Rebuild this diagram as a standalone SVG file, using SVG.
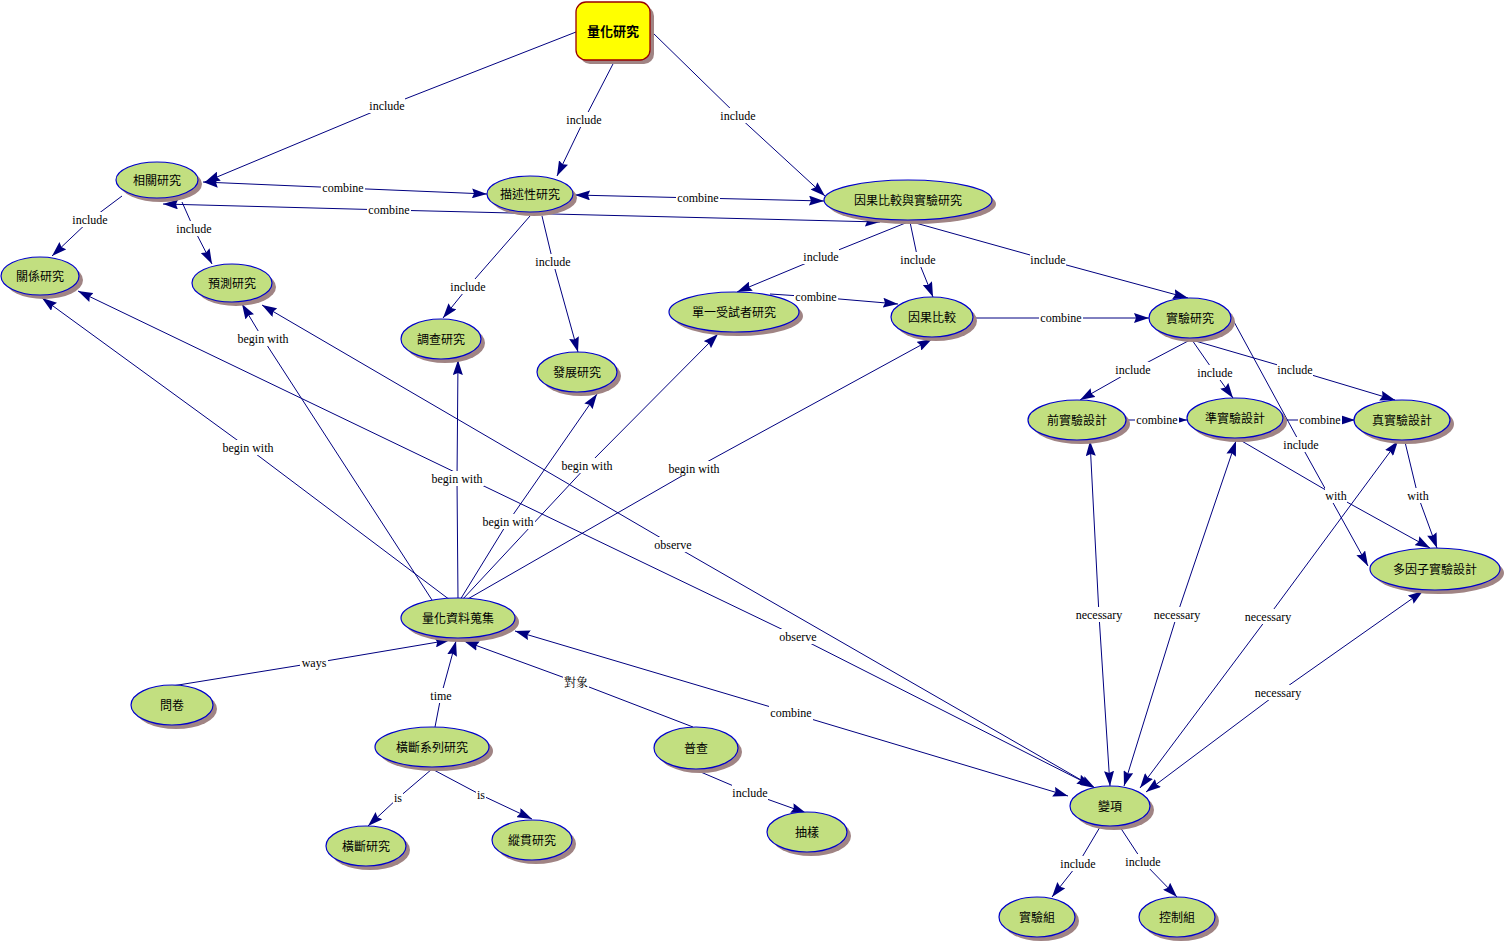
<svg xmlns="http://www.w3.org/2000/svg" width="1506" height="942" viewBox="0 0 1506 942">
<defs>
<style>
.e{fill:none;stroke:#000080;stroke-width:1;}
.a{marker-end:url(#ah);}
.b{marker-end:url(#ah);marker-start:url(#ah);}
.lb{fill:#ffffff;}
.lt{font-family:"Liberation Serif","Noto Serif CJK TC","Noto Sans CJK TC",serif;font-size:12px;fill:#000;text-anchor:middle;}
.sh{fill:#a08484;}
.n{fill:#c2df80;stroke:#0000cc;stroke-width:1.2;}
.nt{font-family:"Noto Sans CJK TC","Noto Sans CJK SC",sans-serif;font-size:12px;fill:#000;text-anchor:middle;}
.root{fill:#ffff00;stroke:#990000;stroke-width:1.3;}
.rt{font-family:"Noto Sans CJK TC","Noto Sans CJK SC",sans-serif;font-size:13px;font-weight:bold;fill:#000;text-anchor:middle;}
</style>
<marker id="ah" viewBox="0 0 15 10" refX="15" refY="5" markerWidth="15" markerHeight="10" markerUnits="userSpaceOnUse" orient="auto-start-reverse">
<path d="M0,0 L15,5 L0,10 L2,5 z" fill="#000080"/>
</marker>
</defs>
<rect width="1506" height="942" fill="#ffffff"/>
<g id="connectors">
<path class="e a" d="M576,32 L387,106 L205,182"/>
<path class="e a" d="M614,62 L584,120 L557,176"/>
<path class="e a" d="M652,32 L738,116 L825,196"/>
<path class="e b" d="M203,182 L343,188 L487,194"/>
<path class="e b" d="M575,195 L698,198 L824,201"/>
<path class="e b" d="M163,204 L389,210 L880,222"/>
<path class="e a" d="M122,196 L90,220 L52,256"/>
<path class="e a" d="M182,202 L194,229 L212,264"/>
<path class="e a" d="M530,216 L468,287 L443,318"/>
<path class="e a" d="M542,216 L553,262 L578,352"/>
<path class="e a" d="M908,222 L821,257 L737,292"/>
<path class="e a" d="M910,222 L918,260 L933,297"/>
<path class="e a" d="M912,222 L1048,260 L1188,298"/>
<path class="e a" d="M770,294 L816,297 L898,304"/>
<path class="e a" d="M973,318 L1061,318 L1149,318"/>
<path class="e a" d="M1190,340 L1133,370 L1080,400"/>
<path class="e a" d="M1192,340 L1215,373 L1233,398"/>
<path class="e a" d="M1192,340 L1295,370 L1395,400"/>
<path class="e a" d="M1127,420 L1157,420 L1187,420"/>
<path class="e a" d="M1283,420 L1320,420 L1355,420"/>
<path class="e a" d="M1233,320 L1301,445 L1368,566"/>
<path class="e a" d="M1240,440 L1336,496 L1430,548"/>
<path class="e a" d="M1405,442 L1418,496 L1437,548"/>
<path class="e a" d="M450,600 L248,448 L42,298"/>
<path class="e a" d="M432,600 L263,339 L242,304"/>
<path class="e a" d="M458,600 L457,479 L458,360"/>
<path class="e a" d="M460,600 L508,522 L597,394"/>
<path class="e a" d="M462,600 L587,466 L718,334"/>
<path class="e a" d="M466,600 L694,469 L932,339"/>
<path class="e b" d="M1092,786 L798,637 L78,291"/>
<path class="e b" d="M1095,788 L673,545 L262,305"/>
<path class="e b" d="M515,631 L791,713 L1068,796"/>
<path class="e a" d="M172,686 L314,663 L450,640"/>
<path class="e a" d="M435,727 L441,696 L456,641"/>
<path class="e a" d="M693,727 L576,682 L464,641"/>
<path class="e a" d="M432,769 L398,798 L368,826"/>
<path class="e a" d="M432,769 L481,795 L532,819"/>
<path class="e a" d="M696,770 L750,793 L806,813"/>
<path class="e b" d="M1090,441 L1099,615 L1110,786"/>
<path class="e b" d="M1236,441 L1177,615 L1124,786"/>
<path class="e b" d="M1398,441 L1268,617 L1140,788"/>
<path class="e b" d="M1423,591 L1278,693 L1146,792"/>
<path class="e a" d="M1100,827 L1078,864 L1052,897"/>
<path class="e a" d="M1120,827 L1143,862 L1177,897"/>
<g id="labels">
<rect class="lb" x="369" y="98" width="36" height="15"/><text class="lt" x="387" y="110">include</text>
<rect class="lb" x="566" y="112" width="36" height="15"/><text class="lt" x="584" y="124">include</text>
<rect class="lb" x="720" y="108" width="36" height="15"/><text class="lt" x="738" y="120">include</text>
<rect class="lb" x="321" y="180" width="44" height="15"/><text class="lt" x="343" y="192">combine</text>
<rect class="lb" x="676" y="190" width="44" height="15"/><text class="lt" x="698" y="202">combine</text>
<rect class="lb" x="367" y="202" width="44" height="15"/><text class="lt" x="389" y="214">combine</text>
<rect class="lb" x="72" y="212" width="36" height="15"/><text class="lt" x="90" y="224">include</text>
<rect class="lb" x="176" y="221" width="36" height="15"/><text class="lt" x="194" y="233">include</text>
<rect class="lb" x="450" y="279" width="36" height="15"/><text class="lt" x="468" y="291">include</text>
<rect class="lb" x="535" y="254" width="36" height="15"/><text class="lt" x="553" y="266">include</text>
<rect class="lb" x="803" y="249" width="36" height="15"/><text class="lt" x="821" y="261">include</text>
<rect class="lb" x="900" y="252" width="36" height="15"/><text class="lt" x="918" y="264">include</text>
<rect class="lb" x="1030" y="252" width="36" height="15"/><text class="lt" x="1048" y="264">include</text>
<rect class="lb" x="794" y="289" width="44" height="15"/><text class="lt" x="816" y="301">combine</text>
<rect class="lb" x="1039" y="310" width="44" height="15"/><text class="lt" x="1061" y="322">combine</text>
<rect class="lb" x="1115" y="362" width="36" height="15"/><text class="lt" x="1133" y="374">include</text>
<rect class="lb" x="1197" y="365" width="36" height="15"/><text class="lt" x="1215" y="377">include</text>
<rect class="lb" x="1277" y="362" width="36" height="15"/><text class="lt" x="1295" y="374">include</text>
<rect class="lb" x="1135" y="412" width="44" height="15"/><text class="lt" x="1157" y="424">combine</text>
<rect class="lb" x="1298" y="412" width="44" height="15"/><text class="lt" x="1320" y="424">combine</text>
<rect class="lb" x="1283" y="437" width="36" height="15"/><text class="lt" x="1301" y="449">include</text>
<rect class="lb" x="1325" y="488" width="22" height="15"/><text class="lt" x="1336" y="500">with</text>
<rect class="lb" x="1407" y="488" width="22" height="15"/><text class="lt" x="1418" y="500">with</text>
<rect class="lb" x="221" y="440" width="54" height="15"/><text class="lt" x="248" y="452">begin with</text>
<rect class="lb" x="236" y="331" width="54" height="15"/><text class="lt" x="263" y="343">begin with</text>
<rect class="lb" x="430" y="471" width="54" height="15"/><text class="lt" x="457" y="483">begin with</text>
<rect class="lb" x="481" y="514" width="54" height="15"/><text class="lt" x="508" y="526">begin with</text>
<rect class="lb" x="560" y="458" width="54" height="15"/><text class="lt" x="587" y="470">begin with</text>
<rect class="lb" x="667" y="461" width="54" height="15"/><text class="lt" x="694" y="473">begin with</text>
<rect class="lb" x="778" y="629" width="40" height="15"/><text class="lt" x="798" y="641">observe</text>
<rect class="lb" x="653" y="537" width="40" height="15"/><text class="lt" x="673" y="549">observe</text>
<rect class="lb" x="769" y="705" width="44" height="15"/><text class="lt" x="791" y="717">combine</text>
<rect class="lb" x="300" y="655" width="28" height="15"/><text class="lt" x="314" y="667">ways</text>
<rect class="lb" x="430" y="688" width="22" height="15"/><text class="lt" x="441" y="700">time</text>
<rect class="lb" x="563" y="674" width="26" height="15"/><text class="lt" x="576" y="687">對象</text>
<rect class="lb" x="393" y="790" width="10" height="15"/><text class="lt" x="398" y="802">is</text>
<rect class="lb" x="476" y="787" width="10" height="15"/><text class="lt" x="481" y="799">is</text>
<rect class="lb" x="732" y="785" width="36" height="15"/><text class="lt" x="750" y="797">include</text>
<rect class="lb" x="1074" y="607" width="50" height="15"/><text class="lt" x="1099" y="619">necessary</text>
<rect class="lb" x="1152" y="607" width="50" height="15"/><text class="lt" x="1177" y="619">necessary</text>
<rect class="lb" x="1243" y="609" width="50" height="15"/><text class="lt" x="1268" y="621">necessary</text>
<rect class="lb" x="1253" y="685" width="50" height="15"/><text class="lt" x="1278" y="697">necessary</text>
<rect class="lb" x="1060" y="856" width="36" height="15"/><text class="lt" x="1078" y="868">include</text>
<rect class="lb" x="1125" y="854" width="36" height="15"/><text class="lt" x="1143" y="866">include</text>
</g>
</g>
<g id="n_root"><rect class="sh" x="580" y="6" width="74" height="58" rx="10"/><rect class="root" x="576" y="2" width="74" height="58" rx="10"/><text class="rt" x="613" y="36">量化研究</text></g>
<g id="n1"><ellipse class="sh" cx="161" cy="184" rx="41" ry="18"/><ellipse class="n" cx="157" cy="180" rx="41" ry="18"/><text class="nt" x="157" y="185">相關研究</text></g>
<g id="n2"><ellipse class="sh" cx="534" cy="198" rx="43" ry="18"/><ellipse class="n" cx="530" cy="194" rx="43" ry="18"/><text class="nt" x="530" y="199">描述性研究</text></g>
<g id="n3"><ellipse class="sh" cx="912" cy="204" rx="84" ry="20"/><ellipse class="n" cx="908" cy="200" rx="84" ry="20"/><text class="nt" x="908" y="205">因果比較與實驗研究</text></g>
<g id="n4"><ellipse class="sh" cx="44" cy="280" rx="39" ry="19"/><ellipse class="n" cx="40" cy="276" rx="39" ry="19"/><text class="nt" x="40" y="281">關係研究</text></g>
<g id="n5"><ellipse class="sh" cx="236" cy="287" rx="40" ry="19"/><ellipse class="n" cx="232" cy="283" rx="40" ry="19"/><text class="nt" x="232" y="288">預測研究</text></g>
<g id="n6"><ellipse class="sh" cx="445" cy="343" rx="40" ry="20"/><ellipse class="n" cx="441" cy="339" rx="40" ry="20"/><text class="nt" x="441" y="344">調查研究</text></g>
<g id="n7"><ellipse class="sh" cx="581" cy="376" rx="40" ry="20"/><ellipse class="n" cx="577" cy="372" rx="40" ry="20"/><text class="nt" x="577" y="377">發展研究</text></g>
<g id="n8"><ellipse class="sh" cx="738" cy="316" rx="65" ry="20"/><ellipse class="n" cx="734" cy="312" rx="65" ry="20"/><text class="nt" x="734" y="317">單一受試者研究</text></g>
<g id="n9"><ellipse class="sh" cx="936" cy="321" rx="41" ry="20"/><ellipse class="n" cx="932" cy="317" rx="41" ry="20"/><text class="nt" x="932" y="322">因果比較</text></g>
<g id="n10"><ellipse class="sh" cx="1194" cy="322" rx="41" ry="20"/><ellipse class="n" cx="1190" cy="318" rx="41" ry="20"/><text class="nt" x="1190" y="323">實驗研究</text></g>
<g id="n11"><ellipse class="sh" cx="1081" cy="424" rx="49" ry="20"/><ellipse class="n" cx="1077" cy="420" rx="49" ry="20"/><text class="nt" x="1077" y="425">前實驗設計</text></g>
<g id="n12"><ellipse class="sh" cx="1239" cy="422" rx="48" ry="20"/><ellipse class="n" cx="1235" cy="418" rx="48" ry="20"/><text class="nt" x="1235" y="423">準實驗設計</text></g>
<g id="n13"><ellipse class="sh" cx="1406" cy="424" rx="48" ry="20"/><ellipse class="n" cx="1402" cy="420" rx="48" ry="20"/><text class="nt" x="1402" y="425">真實驗設計</text></g>
<g id="n14"><ellipse class="sh" cx="1439" cy="573" rx="65" ry="21"/><ellipse class="n" cx="1435" cy="569" rx="65" ry="21"/><text class="nt" x="1435" y="574">多因子實驗設計</text></g>
<g id="n15"><ellipse class="sh" cx="462" cy="622" rx="57" ry="20"/><ellipse class="n" cx="458" cy="618" rx="57" ry="20"/><text class="nt" x="458" y="623">量化資料蒐集</text></g>
<g id="n16"><ellipse class="sh" cx="176" cy="709" rx="41" ry="20"/><ellipse class="n" cx="172" cy="705" rx="41" ry="20"/><text class="nt" x="172" y="710">問卷</text></g>
<g id="n17"><ellipse class="sh" cx="436" cy="751" rx="57" ry="20"/><ellipse class="n" cx="432" cy="747" rx="57" ry="20"/><text class="nt" x="432" y="752">橫斷系列研究</text></g>
<g id="n18"><ellipse class="sh" cx="700" cy="752" rx="42" ry="21"/><ellipse class="n" cx="696" cy="748" rx="42" ry="21"/><text class="nt" x="696" y="753">普查</text></g>
<g id="n19"><ellipse class="sh" cx="370" cy="850" rx="40" ry="20"/><ellipse class="n" cx="366" cy="846" rx="40" ry="20"/><text class="nt" x="366" y="851">橫斷研究</text></g>
<g id="n20"><ellipse class="sh" cx="536" cy="844" rx="40" ry="20"/><ellipse class="n" cx="532" cy="840" rx="40" ry="20"/><text class="nt" x="532" y="845">縱貫研究</text></g>
<g id="n21"><ellipse class="sh" cx="811" cy="836" rx="40" ry="20"/><ellipse class="n" cx="807" cy="832" rx="40" ry="20"/><text class="nt" x="807" y="837">抽樣</text></g>
<g id="n22"><ellipse class="sh" cx="1114" cy="810" rx="40" ry="20"/><ellipse class="n" cx="1110" cy="806" rx="40" ry="20"/><text class="nt" x="1110" y="811">變項</text></g>
<g id="n23"><ellipse class="sh" cx="1041" cy="921" rx="38" ry="20"/><ellipse class="n" cx="1037" cy="917" rx="38" ry="20"/><text class="nt" x="1037" y="922">實驗組</text></g>
<g id="n24"><ellipse class="sh" cx="1181" cy="921" rx="38" ry="20"/><ellipse class="n" cx="1177" cy="917" rx="38" ry="20"/><text class="nt" x="1177" y="922">控制組</text></g>
</svg>
